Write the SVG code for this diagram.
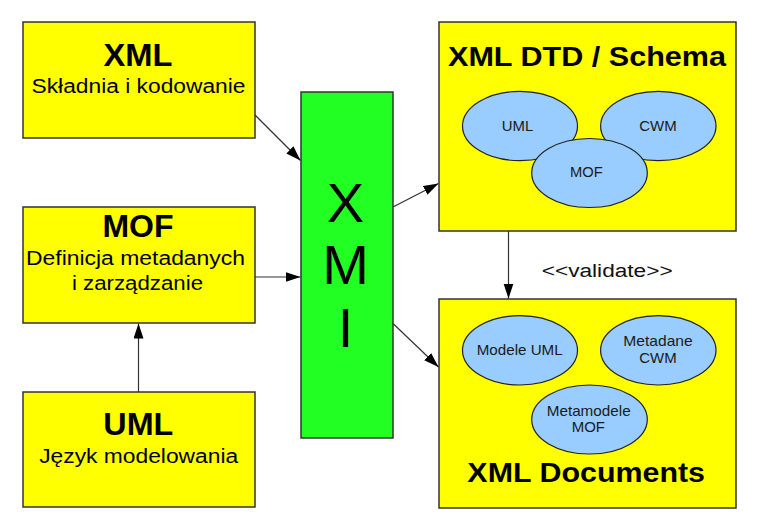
<svg xmlns="http://www.w3.org/2000/svg" width="769" height="520" viewBox="0 0 769 520">
<style>
text{font-family:"Liberation Sans",Arial,sans-serif;fill:#000;text-anchor:middle}
.box{fill:#ffff00;stroke:#333;stroke-width:1.5}
.xmi{fill:#22ff22;stroke:#333;stroke-width:1.5}
.ell{fill:#99ccff;stroke:#222;stroke-width:1.2}
.t{font-weight:bold;font-size:32px}
.t2{font-weight:bold;font-size:28px}
.s{font-size:20px}
.e{font-size:15px;fill:#1a1a1a}
.big{font-size:56px}
.conn line{stroke:#333;stroke-width:1.2;fill:none}
</style>
<defs>
<marker id="ah" markerUnits="userSpaceOnUse" markerWidth="16" markerHeight="12" refX="15" refY="5" orient="auto">
<path d="M0,0 L15,5 L0,10 z" fill="#000"/>
</marker>
</defs>
<rect width="769" height="520" fill="#fff"/>
<g id="xml">
<rect class="box" x="23" y="22" width="232" height="116"/>
<text class="t" x="138" y="66" textLength="69" lengthAdjust="spacingAndGlyphs">XML</text>
<text class="s" x="138.5" y="93" textLength="214" lengthAdjust="spacingAndGlyphs">Składnia i kodowanie</text>
</g>
<g id="mof">
<rect class="box" x="23" y="207" width="232" height="116"/>
<text class="t" x="138" y="237" textLength="71" lengthAdjust="spacingAndGlyphs">MOF</text>
<text class="s" x="135.5" y="265" textLength="219" lengthAdjust="spacingAndGlyphs">Definicja metadanych</text>
<text class="s" x="137.5" y="290" textLength="131" lengthAdjust="spacingAndGlyphs">i zarządzanie</text>
</g>
<g id="uml">
<rect class="box" x="23" y="392" width="232" height="115"/>
<text class="t" x="138.3" y="435" textLength="70" lengthAdjust="spacingAndGlyphs">UML</text>
<text class="s" x="138.7" y="463" textLength="199" lengthAdjust="spacingAndGlyphs">Język modelowania</text>
</g>
<g id="xmi">
<rect class="xmi" x="301" y="92" width="92" height="346"/>
<text class="big" x="345.5" y="222">X</text>
<text class="big" x="345.5" y="284">M</text>
<text class="big" x="345.5" y="347">I</text>
</g>
<g id="schema">
<rect class="box" x="439" y="22" width="297" height="209"/>
<text class="t2" x="587" y="66" textLength="278" lengthAdjust="spacingAndGlyphs">XML DTD / Schema</text>
<g id="schema-uml">
<ellipse class="ell" cx="520" cy="126" rx="57.5" ry="34.7"/>
<text class="e" x="517.5" y="131" textLength="31.5" lengthAdjust="spacingAndGlyphs">UML</text>
</g>
<g id="schema-cwm">
<ellipse class="ell" cx="658.3" cy="126" rx="57.7" ry="34.7"/>
<text class="e" x="658" y="131" textLength="37.5" lengthAdjust="spacingAndGlyphs">CWM</text>
</g>
<g id="schema-mof">
<ellipse class="ell" cx="589.5" cy="173" rx="57.8" ry="34.5"/>
<text class="e" x="586.3" y="177" textLength="32.7" lengthAdjust="spacingAndGlyphs">MOF</text>
</g>
</g>
<g id="documents">
<rect class="box" x="439" y="299" width="297" height="209"/>
<g id="doc-uml">
<ellipse class="ell" cx="520" cy="350.3" rx="57.5" ry="34.7"/>
<text class="e" x="519.7" y="354.5" textLength="86" lengthAdjust="spacingAndGlyphs">Modele UML</text>
</g>
<g id="doc-cwm">
<ellipse class="ell" cx="658.3" cy="350.3" rx="57.7" ry="34.7"/>
<text class="e" x="658" y="346" textLength="69.3" lengthAdjust="spacingAndGlyphs">Metadane</text>
<text class="e" x="658" y="362.7" textLength="37.4" lengthAdjust="spacingAndGlyphs">CWM</text>
</g>
<g id="doc-mof">
<ellipse class="ell" cx="589.5" cy="419.5" rx="57.8" ry="34.5"/>
<text class="e" x="588.7" y="415.7" textLength="84" lengthAdjust="spacingAndGlyphs">Metamodele</text>
<text class="e" x="588.3" y="432.3" textLength="33.3" lengthAdjust="spacingAndGlyphs">MOF</text>
</g>
<text class="t2" x="586.2" y="482" textLength="237.7" lengthAdjust="spacingAndGlyphs">XML Documents</text>
</g>
<g id="connectors" class="conn">
<line x1="255" y1="115" x2="300.5" y2="160.5" marker-end="url(#ah)"/>
<line x1="255" y1="277" x2="300.5" y2="277" marker-end="url(#ah)"/>
<line x1="138.5" y1="392" x2="138.5" y2="323.5" marker-end="url(#ah)"/>
<line x1="393" y1="207" x2="438.5" y2="183.5" marker-end="url(#ah)"/>
<line x1="393" y1="323.5" x2="438.5" y2="367" marker-end="url(#ah)"/>
<line x1="508.5" y1="231" x2="508.5" y2="298.5" marker-end="url(#ah)"/>
<text x="607.2" y="277" style="font-size:18px;fill:#111;stroke:none" textLength="131" lengthAdjust="spacingAndGlyphs">&lt;&lt;validate&gt;&gt;</text>
</g>
</svg>
